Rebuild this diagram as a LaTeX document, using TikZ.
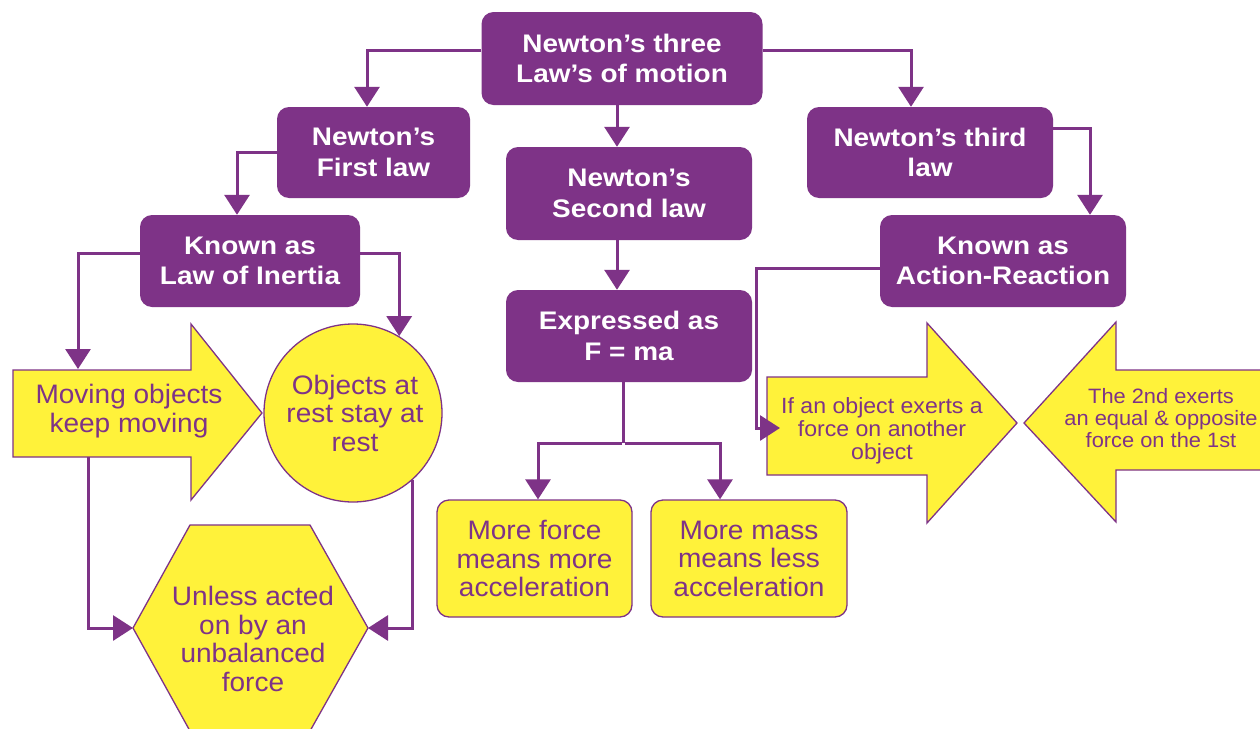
\documentclass[tikz,border=0pt]{standalone}
\usepackage{fontspec}
\setmainfont{Liberation Sans}
\newfontfamily\boldwide[FakeStretch=1.1]{Liberation Sans}
\newfontfamily\regwide[FakeStretch=1.05]{Liberation Sans}
\usetikzlibrary{arrows.meta,calc}
\definecolor{purp}{RGB}{126,51,135}
\definecolor{yel}{RGB}{255,242,58}
\begin{document}
\begin{tikzpicture}[x=1pt,y=-1pt,
  pbox/.style={fill=purp,rounded corners=12pt,text=white,align=center,inner sep=0pt,
    font=\boldwide\bfseries\fontsize{25.4}{30.5}\selectfont},
  ybox/.style={fill=yel,draw=purp,line width=1.3pt,rounded corners=12pt,text=purp,align=center,inner sep=0pt,
    font=\regwide\fontsize{26.7}{28.5}\selectfont},
  yshape/.style={fill=yel,draw=purp,line width=1.3pt,line join=miter},
  ytext/.style={text=purp,align=center,inner sep=0pt,font=\regwide\fontsize{26.7}{28.5}\selectfont},
  stext/.style={text=purp,align=center,inner sep=0pt,font=\regwide\fontsize{22}{23}\selectfont},
  conn/.style={draw=purp,line width=3pt,-{Triangle[width=25pt,length=20pt]}},
  plain/.style={draw=purp,line width=3pt}]
\useasboundingbox (0,0) rectangle (1260,728);
\fill[white] (0,0) rectangle (1260,728);

% purple boxes
\node[pbox,minimum width=281pt,minimum height=93pt] (top) at (622,58.5) {Newton’s three\\Law’s of motion};
\node[pbox,minimum width=193pt,minimum height=91pt] (first) at (373.5,152.5) {Newton’s\\First law};
\node[pbox,minimum width=246pt,minimum height=93pt] (second) at (629,193.5) {Newton’s\\Second law};
\node[pbox,minimum width=246pt,minimum height=91pt] (third) at (930,152.5) {Newton’s third\\law};
\node[pbox,minimum width=220pt,minimum height=92pt] (inertia) at (250,261) {Known as\\Law of Inertia};
\node[pbox,minimum width=246pt,minimum height=92pt] (express) at (629,336) {Expressed as\\F = ma};
\node[pbox,minimum width=246pt,minimum height=92pt] (action) at (1003,261) {Known as\\Action-Reaction};

% yellow boxes
\node[ybox,minimum width=195pt,minimum height=117pt] (force) at (534.5,558.5) {More force\\means more\\acceleration};
\node[ybox,minimum width=196pt,minimum height=117pt] (mass) at (749,558.5) {More mass\\means less\\acceleration};

% moving arrow
\draw[yshape] (13,370) -- (191,370) -- (191,324) -- (262,413) -- (191,500) -- (191,457) -- (13,457) -- cycle;
\node[ytext] (moving) at (129,411) {Moving objects\\keep moving};
\coordinate (movtop) at (78,369);
\coordinate (movbot) at (88,457);

% circle
\node[circle,fill=yel,draw=purp,line width=1.3pt,minimum size=178pt,inner sep=0pt] (circ) at (353,413) {};
\node[ytext] (rest) at (355,413) {Objects at\\rest stay at\\rest};

% hexagon
\draw[yshape] (190,525) -- (310,525) -- (368,628) -- (310,731) -- (190,731) -- (133,628) -- cycle;
\coordinate (hexL) at (133,628);
\coordinate (hexR) at (368,628);
\node[ytext] (unless) at (253,639) {Unless acted\\on by an\\unbalanced\\force};

% action arrows
\draw[yshape] (767,377) -- (927,377) -- (927,323) -- (1017,423) -- (927,523) -- (927,475) -- (767,475) -- cycle;
\node[stext] (ifan) at (882,431) {If an object exerts a\\force on another\\object};
\coordinate (ifanL) at (780,428);
\draw[yshape] (1270,370) -- (1116,370) -- (1116,322) -- (1024,423) -- (1116,522) -- (1116,470) -- (1270,470) -- cycle;
\node[stext,font=\regwide\fontsize{20.8}{22}\selectfont] (second2) at (1161,418) {The 2nd exerts\\an equal \& opposite\\force on the 1st};

% connectors
\draw[conn] ([yshift=8pt]top.west) -| ([xshift=-6.5pt]first.north);
\draw[conn] ([yshift=8pt]top.east) -| ([xshift=-19pt]third.north);
\draw[conn] ([xshift=-5pt]top.south) -- ([xshift=-12pt]second.north);
\draw[conn] ([xshift=-12pt]second.south) -- ([xshift=-12pt]express.north);
\draw[plain] ([xshift=-6pt]express.south) -- ++(0,61) coordinate (split);
\draw[conn] ([xshift=-1.5pt]split) -| ([xshift=3.5pt]force.north);
\draw[conn] ([xshift=1.5pt]split) -| ([xshift=-29pt]mass.north);
\draw[conn] (first.west) -| ([xshift=-13pt]inertia.north);
\draw[conn] ([yshift=8pt]inertia.west) -| (movtop);
\draw[conn] ([yshift=8pt]inertia.east) -| (circ.59);
\draw[conn] (movbot) |- (hexL);
\draw[conn] (circ.-48.5) |- (hexR);
\draw[conn] ([yshift=24pt]third.east) -| ([xshift=87pt]action.north);
\draw[conn] ([yshift=-7pt]action.west) -- ++(-123,0) |- (ifanL);
\end{tikzpicture}
\end{document}
